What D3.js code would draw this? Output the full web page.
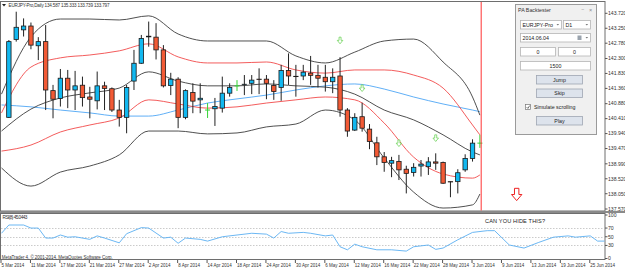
<!DOCTYPE html>
<html>
<head>
<meta charset="utf-8">
<script src="https://cdn.jsdelivr.net/npm/d3@7"></script>
<style>
body { margin: 0; background: #fff; }
svg text { font-family: "Liberation Sans", Arial, sans-serif; }
</style>
</head>
<body>
<div class="chart-container"></div>
<script>
// EURJPY daily, bars counted from 5 Mar 2014 (index 0)
const date_labels = ['5 Mar 2014', '11 Mar 2014', '17 Mar 2014', '21 Mar 2014', '27 Mar 2014',
   '2 Apr 2014', '8 Apr 2014', '14 Apr 2014', '18 Apr 2014', '24 Apr 2014', '30 Apr 2014',
   '6 May 2014', '12 May 2014', '16 May 2014', '22 May 2014', '28 May 2014', '3 Jun 2014',
   '9 Jun 2014', '13 Jun 2014', '19 Jun 2014', '25 Jun 2014'];

const candle_start = 1;
const opens = [140.45, 142.90, 143.20, 143.32, 142.70, 142.83, 141.29, 141.04, 141.68, 141.31,
   141.46, 141.09, 140.97, 141.44, 141.35, 140.68, 140.45, 141.59, 142.15, 142.98,
   142.97, 142.57, 141.45, 141.65, 140.45, 141.23, 141.00, 140.68, 140.72, 140.74,
   141.21, 141.44, 141.48, 141.52, 141.65, 141.65, 141.45, 141.39, 141.92, 141.74,
   141.75, 141.84, 141.77, 141.71, 141.57, 141.75, 140.68, 140.05, 140.47, 140.08,
   139.65, 139.21, 139.01, 139.06, 138.82, 138.72, 138.92, 138.90, 139.05, 139.03,
   138.43, 138.43, 138.80, 139.16, 139.64];
const highs = [142.88, 143.77, 143.56, 143.43, 142.97, 143.35, 141.47, 141.97, 141.94, 141.91,
   141.73, 141.41, 141.89, 141.57, 141.39, 141.00, 141.47, 142.57, 143.04, 143.46,
   143.41, 142.72, 141.85, 141.71, 141.33, 141.52, 141.52, 140.90, 141.06, 141.73,
   141.52, 141.62, 141.78, 141.78, 141.99, 141.78, 141.62, 142.10, 142.46, 142.10,
   142.10, 142.38, 142.10, 142.10, 141.99, 142.34, 140.74, 140.58, 140.91, 140.24,
   139.84, 139.36, 139.21, 139.27, 138.93, 139.01, 139.11, 139.20, 139.32, 139.06,
   138.44, 138.82, 139.29, 139.76, 139.90];
const lows = [140.43, 142.83, 142.99, 142.59, 142.25, 140.68, 140.42, 140.79, 140.74, 140.68,
   140.79, 140.42, 140.70, 140.68, 140.62, 140.16, 139.95, 141.31, 142.13, 142.67,
   142.27, 141.39, 141.15, 140.11, 140.39, 140.58, 140.58, 140.43, 140.18, 140.60,
   141.10, 141.28, 141.15, 141.18, 141.18, 141.02, 141.00, 140.97, 141.47, 141.10,
   141.62, 141.47, 141.39, 141.26, 141.21, 140.47, 139.84, 140.02, 140.00, 139.45,
   138.95, 138.74, 138.57, 138.48, 138.06, 138.59, 138.59, 138.64, 138.80, 138.36,
   137.94, 138.06, 138.74, 139.06, 139.49];
const closes = [142.83, 143.28, 143.32, 142.72, 142.83, 141.31, 141.02, 141.68, 141.31, 141.44,
   141.07, 141.02, 141.44, 141.36, 140.68, 140.45, 141.39, 142.15, 142.93, 143.00,
   142.57, 141.44, 141.65, 140.45, 141.29, 140.96, 141.05, 140.68, 140.79, 141.21,
   141.39, 141.44, 141.49, 141.62, 141.64, 141.52, 141.26, 141.92, 141.75, 141.73,
   141.87, 141.77, 141.68, 141.57, 141.71, 140.68, 140.02, 140.45, 140.11, 139.69,
   139.21, 139.03, 139.09, 138.80, 138.69, 138.88, 138.98, 139.05, 139.01, 138.38,
   138.42, 138.71, 139.16, 139.64, 139.64];

// indicator lines read every 4 bars
const band_idx = [0, 4, 8, 12, 16, 20, 24, 28, 32, 36, 40, 44, 48, 52, 56, 60, 64, 65];
const upper_outer = [141.18, 142.98, 143.54, 143.54, 143.51, 143.64, 143.07, 142.85, 142.85, 142.85, 142.38, 142.16, 142.50, 142.85, 142.91, 142.19, 141.09, 140.52];
const upper_inner = [140.59, 142.03, 142.32, 142.41, 142.54, 142.76, 142.35, 142.16, 142.16, 142.19, 141.94, 141.84, 141.94, 141.94, 141.78, 141.37, 140.21, 139.90];
const middle_band = [140.02, 140.71, 141.06, 141.22, 141.37, 141.88, 141.59, 141.44, 141.44, 141.50, 141.44, 141.40, 141.18, 140.68, 140.37, 139.90, 139.36, 139.27];
const lower_inner = [139.39, 139.58, 139.99, 140.21, 140.43, 141.00, 140.87, 140.74, 140.78, 140.90, 141.00, 141.09, 141.00, 140.27, 139.20, 138.67, 138.54, 138.64];
const lower_outer = [138.86, 138.29, 138.73, 138.92, 139.27, 140.02, 140.02, 139.93, 139.96, 140.15, 140.24, 140.68, 140.37, 139.17, 138.10, 137.60, 137.70, 138.04];
const slow_ma = [140.84, 140.78, 140.68, 140.59, 140.49, 140.49, 140.68, 140.90, 141.03, 141.15, 141.31, 141.44, 141.50, 141.34, 141.09, 140.87, 140.68, 140.63];

const arrow_idx = [46, 49, 54, 59];
const arrow_price = [142.97, 141.47, 139.74, 139.90];
const marker_idx = 70;
const marker_price = 138.22;
const current_idx = 65;

const rsi_idx = [0, 1, 3, 4, 5, 6, 7, 8, 9, 10, 12, 13, 14, 16, 17, 19, 20, 22, 23, 24,
   25, 27, 28, 30, 32, 34, 36, 37, 38, 39, 41, 42, 44, 45, 46, 47, 48, 49, 51, 53,
   55, 56, 58, 59, 60, 62, 64, 66, 67, 69, 71, 73, 75, 77, 78, 80, 81, 82];
const rsi_val = [58, 77, 77, 70, 70, 47, 47, 54, 49, 50, 44, 52, 47, 36, 57, 71, 70, 47, 49, 35,
   47, 44, 40, 50, 54, 58, 56, 47, 62, 58, 60, 58, 52, 54, 27, 20, 33, 27, 20, 20,
   17, 27, 31, 21, 24, 43, 60, 64, 64, 31, 24, 37, 49, 52, 49, 52, 40, 40];

const price_ticks = [143.720, 143.250, 142.780, 142.300, 141.830, 141.360, 140.880,
   140.410, 139.940, 139.470, 138.990, 138.520, 138.050, 137.570];
const rsi_ticks = [100, 70, 50, 30, 0];
const rsi_levels = [70, 50, 30];

function build_svg() {
   return d3.select('.chart-container')
      .append('svg')
      .attr('width', 625)
      .attr('height', 269);
}

function draw_frames(svg) {
   // main window and indicator window borders
   svg.append('rect')
      .attr('x', 0.5).attr('y', 1.5).attr('width', 604.5).attr('height', 209.5)
      .style('fill', 'none').style('stroke', '#6e6e6e');
   svg.append('rect')
      .attr('x', 0).attr('y', 211).attr('width', 625).attr('height', 2)
      .style('fill', '#8a8a8a');
   svg.append('rect')
      .attr('x', 0.5).attr('y', 213.5).attr('width', 604.5).attr('height', 46)
      .style('fill', 'none').style('stroke', '#6e6e6e');
   svg.append('clipPath').attr('id', 'main-clip')
      .append('rect').attr('x', 1).attr('y', 2).attr('width', 603.5).attr('height', 208.5);
   svg.append('clipPath').attr('id', 'rsi-clip')
      .append('rect').attr('x', 1).attr('y', 214).attr('width', 603.5).attr('height', 45);
}

function draw_bands(g, x, y) {
   const pts = arr => arr.map((v, i) => ({i: band_idx[i], v: v}));
   const line_gen = d3.line()
      .x(d => x(d.i))
      .y(d => y(d.v))
      .curve(d3.curveMonotoneX);
   const series = [
      {values: slow_ma, color: '#4ea6f5'},
      {values: upper_inner, color: '#f24a4a'},
      {values: lower_inner, color: '#f24a4a'},
      {values: upper_outer, color: '#3c3c3c'},
      {values: middle_band, color: '#3c3c3c'},
      {values: lower_outer, color: '#3c3c3c'},
   ];
   g.selectAll('.band')
      .data(series)
      .enter()
      .append('path')
      .attr('class', 'band')
      .attr('d', d => line_gen(pts(d.values)))
      .style('fill', 'none')
      .style('stroke', d => d.color)
      .style('stroke-width', 0.9);
}

function draw_candles(g, x, y) {
   const candles = opens.map((o, k) => ({
      i: candle_start + k, o: o, h: highs[k], l: lows[k], c: closes[k]
   }));
   const body_w = 4.4;
   const bars = g.selectAll('.candle').data(candles).enter().append('g').attr('class', 'candle');

   bars.append('line')
      .attr('x1', d => x(d.i)).attr('x2', d => x(d.i))
      .attr('y1', d => y(d.h)).attr('y2', d => y(d.l))
      .style('stroke', d => d.o === d.c ? '#35d435' : '#222')
      .style('stroke-width', 1);

   bars.filter(d => d.o !== d.c)
      .append('rect')
      .attr('x', d => x(d.i) - body_w / 2)
      .attr('width', body_w)
      .attr('y', d => y(Math.max(d.o, d.c)))
      .attr('height', d => Math.max(0.3, Math.abs(y(d.o) - y(d.c))))
      .style('fill', d => d.c > d.o ? '#12b8f0' : '#f25a35')
      .style('stroke', '#1a1a1a')
      .style('stroke-width', 0.8);

   // doji bars are drawn as a plus in the bar-up colour
   bars.filter(d => d.o === d.c)
      .append('line')
      .attr('x1', d => x(d.i) - 2.5).attr('x2', d => x(d.i) + 2.5)
      .attr('y1', d => y(d.o)).attr('y2', d => y(d.o))
      .style('stroke', '#35d435')
      .style('stroke-width', 1);
}

function draw_arrows(g, x, y) {
   const small = 'M-1,0H1V3.2H2.8L0,6.6L-2.8,3.2H-1Z';
   g.selectAll('.signal')
      .data(arrow_idx.map((v, k) => ({i: v, p: arrow_price[k]})))
      .enter()
      .append('path')
      .attr('class', 'signal')
      .attr('d', small)
      .attr('transform', d => `translate(${x(d.i)},${y(d.p)})`)
      .style('fill', '#fff')
      .style('stroke', '#6fd35a')
      .style('stroke-width', 0.8);

   g.append('path')
      .attr('d', 'M-2.2,0H2.2V6.2H5.2L0,12.3L-5.2,6.2H-2.2Z')
      .attr('transform', `translate(${x(marker_idx)},${y(marker_price)})`)
      .style('fill', '#fff')
      .style('stroke', '#ee2020')
      .style('stroke-width', 1);

   g.append('line')
      .attr('x1', x(current_idx) + 1.3).attr('x2', x(current_idx) + 1.3)
      .attr('y1', 2).attr('y2', 211)
      .style('stroke', '#ff3333')
      .style('stroke-width', 1);
}

function draw_price_axis(svg, y) {
   const axis = svg.append('g').attr('class', 'price-axis');
   axis.selectAll('line')
      .data(price_ticks).enter().append('line')
      .attr('x1', 605).attr('x2', 607.5)
      .attr('y1', d => y(d)).attr('y2', d => y(d))
      .style('stroke', '#555');
   axis.selectAll('text')
      .data(price_ticks).enter().append('text')
      .attr('x', 608)
      .attr('y', d => y(d) + 1.8)
      .text(d => d3.format('.3f')(d))
      .style('font-size', '5.1px')
      .style('fill', '#333');
}

function draw_rsi(svg, x) {
   const ry = d3.scaleLinear().domain([0, 100]).range([258.5, 215]);
   const g = svg.append('g').attr('clip-path', 'url(#rsi-clip)');

   g.selectAll('.level')
      .data(rsi_levels).enter().append('line')
      .attr('class', 'level')
      .attr('x1', 1).attr('x2', 605)
      .attr('y1', d => Math.round(ry(d)) + 0.5).attr('y2', d => Math.round(ry(d)) + 0.5)
      .style('stroke', '#b4b4b4')
      .style('stroke-dasharray', '1.5,1.5')
      .style('stroke-width', 0.7);

   const line_gen = d3.line().x(d => x(d[0])).y(d => ry(d[1]));
   g.append('path')
      .attr('d', line_gen(rsi_idx.map((v, k) => [v, rsi_val[k]])))
      .style('fill', 'none')
      .style('stroke', '#5aaff2')
      .style('stroke-width', 0.9);

   const axis = svg.append('g');
   axis.selectAll('line')
      .data(rsi_ticks).enter().append('line')
      .attr('x1', 605).attr('x2', 607.5)
      .attr('y1', d => ry(d)).attr('y2', d => ry(d))
      .style('stroke', '#555');
   axis.selectAll('text')
      .data(rsi_ticks).enter().append('text')
      .attr('x', 608)
      .attr('y', d => ry(d) + 1.8)
      .text(d => d)
      .style('font-size', '5.1px')
      .style('fill', '#333');

   svg.append('text')
      .attr('x', 2.5).attr('y', 218.8)
      .text('RSI(8) 45.0443')
      .attr('textLength', 25)
      .style('font-size', '4.8px')
      .style('fill', '#333');

   svg.append('text')
      .attr('x', 485).attr('y', 222.6)
      .text('CAN YOU HIDE THIS?')
      .attr('textLength', 60)
      .style('font-size', '5.6px')
      .style('fill', '#222');

   svg.append('text')
      .attr('x', 1.8).attr('y', 258.6)
      .text('MetaTrader 4, © 2001-2014, MetaQuotes Software Corp.')
      .attr('textLength', 111)
      .style('font-size', '4.5px')
      .style('fill', '#333');
}

function draw_date_axis(svg, x) {
   const ticks = date_labels.map((d, k) => ({i: k * 4, label: d}));
   const axis = svg.append('g').attr('class', 'date-axis');
   axis.selectAll('line')
      .data(ticks).enter().append('line')
      .attr('x1', d => x(d.i) - 0.5).attr('x2', d => x(d.i) - 0.5)
      .attr('y1', 260).attr('y2', 263)
      .style('stroke', '#555');
   axis.selectAll('text')
      .data(ticks).enter().append('text')
      .attr('x', d => x(d.i))
      .attr('y', 267.2)
      .text(d => d.label)
      .style('font-size', '4.5px')
      .style('fill', '#333');
}

function draw_title(svg) {
   svg.append('path')
      .attr('d', 'M2,4H6L4,6.5Z')
      .style('fill', '#222');
   svg.append('text')
      .attr('x', 8.5).attr('y', 7.4)
      .text('EURJPY-Pro,Daily  134.587 135.333 133.739 133.797')
      .attr('textLength', 101)
      .style('font-size', '4.6px')
      .style('fill', '#333');
}

function draw_backtester(svg) {
   // floating tester window
   const w = svg.append('g').attr('class', 'tester');
   const fs = '5.3px';
   w.append('rect')
      .attr('x', 515.5).attr('y', 4.5).attr('width', 81).attr('height', 130)
      .style('fill', '#f0f0f0').style('stroke', '#9a9a9a');
   w.append('text').attr('x', 518).attr('y', 11.6).text('PA Backtester')
      .style('font-size', fs).style('fill', '#333');
   w.append('text').attr('x', 581.5).attr('y', 11.2).text('–')
      .style('font-size', '4.5px').style('fill', '#888');
   w.append('text').attr('x', 589).attr('y', 11.6).text('×')
      .style('font-size', '5.5px').style('fill', '#888');

   const boxes = [
      {x: 520.5, y: 20.5, w: 41, text: 'EURJPY-Pro', anchor: 'start', arrow: true},
      {x: 563.5, y: 20.5, w: 27, text: 'D1', anchor: 'start', arrow: true},
      {x: 520.5, y: 33.5, w: 70, text: '2014.06.04', anchor: 'start', arrow: true, cal: true},
      {x: 520.5, y: 47.5, w: 35, text: '0', anchor: 'middle'},
      {x: 558.5, y: 47.5, w: 32, text: '0', anchor: 'middle'},
      {x: 520.5, y: 61.5, w: 70, text: '1500', anchor: 'middle'},
   ];
   const bx = w.selectAll('.box').data(boxes).enter().append('g').attr('class', 'box');
   bx.append('rect')
      .attr('x', d => d.x).attr('y', d => d.y).attr('width', d => d.w).attr('height', 8.5)
      .style('fill', '#fff').style('stroke', '#b5b5b5').style('stroke-width', 0.8);
   bx.append('text')
      .attr('x', d => d.anchor === 'start' ? d.x + 2 : d.x + d.w / 2)
      .attr('y', d => d.y + 6.3)
      .attr('text-anchor', d => d.anchor)
      .text(d => d.text)
      .style('font-size', fs).style('fill', '#222');
   bx.filter(d => d.arrow).append('path')
      .attr('d', d => `M${d.x + d.w - 5},${d.y + 3.6}h2.6l-1.3,1.4z`)
      .style('fill', '#777');
   bx.filter(d => d.cal).append('rect')
      .attr('x', d => d.x + d.w - 13).attr('y', d => d.y + 2)
      .attr('width', 4).attr('height', 4.5)
      .style('fill', '#9aa3ad');

   const buttons = [{y: 75.5, text: 'Jump'}, {y: 89, text: 'Skip'}, {y: 116.5, text: 'Play'}];
   const bt = w.selectAll('.btn').data(buttons).enter().append('g').attr('class', 'btn');
   bt.append('rect')
      .attr('x', 536.5).attr('y', d => d.y).attr('width', 46).attr('height', 8.5)
      .style('fill', '#dde3ec').style('stroke', '#9ea6b2').style('stroke-width', 0.8);
   bt.append('text')
      .attr('x', 559.5).attr('y', d => d.y + 6.2)
      .attr('text-anchor', 'middle')
      .text(d => d.text)
      .style('font-size', fs).style('fill', '#222');

   w.append('rect')
      .attr('x', 525.5).attr('y', 104.5).attr('width', 5).attr('height', 5)
      .style('fill', '#fff').style('stroke', '#777').style('stroke-width', 0.7);
   w.append('path')
      .attr('d', 'M526.6,107.1L527.9,108.4L529.7,105.6')
      .style('fill', 'none').style('stroke', '#333').style('stroke-width', 0.7);
   w.append('text').attr('x', 534).attr('y', 108.9).text('Simulate scrolling')
      .style('font-size', fs).style('fill', '#222');
}

function chart_main() {
   const x = d3.scaleLinear().domain([0, 82]).range([1.5, 605]);
   const y = d3.scaleLinear().domain([137.57, 143.72]).range([209, 13.3]);

   const svg = build_svg();
   draw_frames(svg);
   const main = svg.append('g').attr('clip-path', 'url(#main-clip)');
   draw_bands(main, x, y);
   draw_candles(main, x, y);
   draw_arrows(main, x, y);
   draw_price_axis(svg, y);
   draw_title(svg);
   draw_rsi(svg, x);
   draw_date_axis(svg, x);
   draw_backtester(svg);
}

chart_main();
</script>
</body>
</html>
